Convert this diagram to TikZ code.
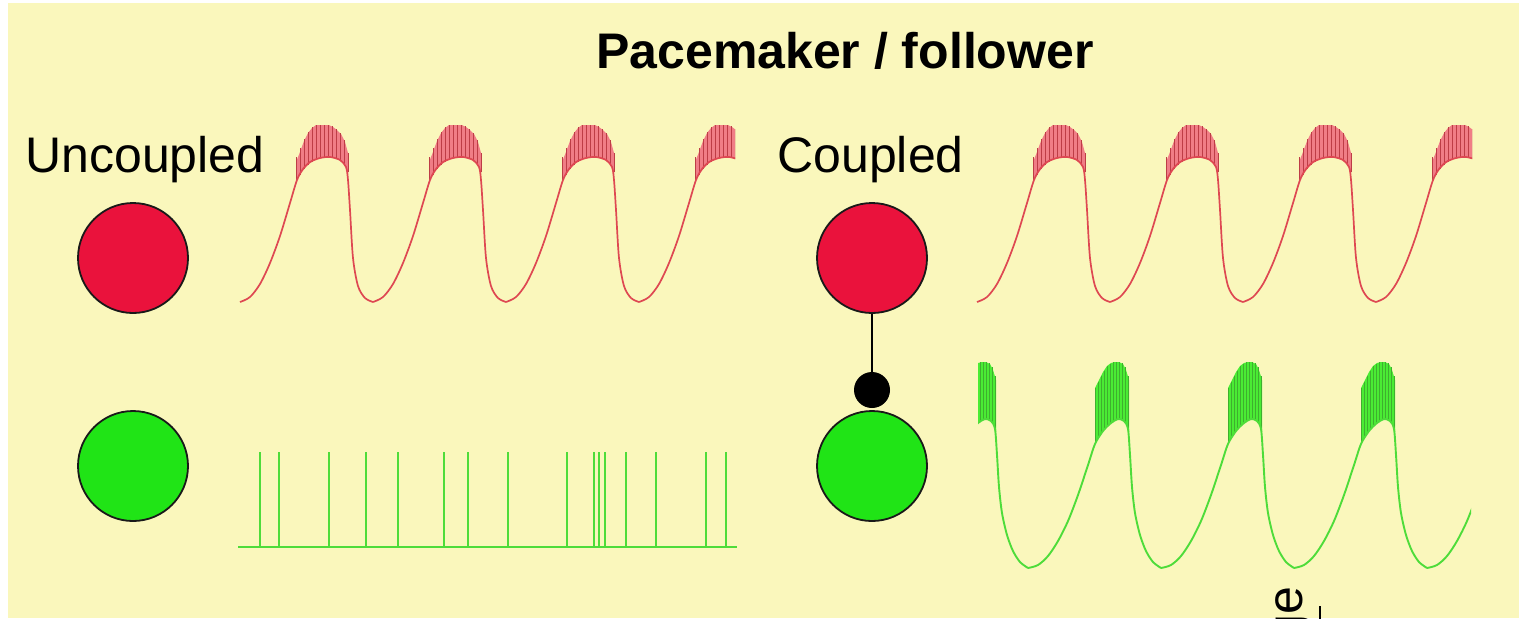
\documentclass[tikz,border=0pt]{standalone}
\usepackage{fontspec}
\setmainfont{Liberation Sans}

\definecolor{paper}{RGB}{250,247,188}
\definecolor{cellred}{RGB}{234,18,60}
\definecolor{cellgreen}{RGB}{32,228,22}
\definecolor{tracered}{RGB}{222,72,82}
\definecolor{burstred}{RGB}{240,125,134}
\definecolor{tracegreen}{RGB}{78,220,58}
\definecolor{burstgreen}{RGB}{74,236,52}

% one cycle of the pacemaker trace, measured from its trough
\newcommand\pmburst{%
  \fill[burstred] (56,181) -- (56,162) -- (60,152) -- (64,141) -- (68,133)
    -- (72,128) -- (76,125) -- (89,125) -- (93,127) -- (97,130) -- (101,134)
    -- (105,142) -- (108,153) -- (108,174) -- (105,165) -- (101,161)
    -- (97,159) -- (93,158) -- (89,157) -- (85,157.5) -- (81,158) -- (77,159)
    -- (73,161) -- (69,164) -- (65,168) -- (61,173) -- cycle;
  \foreach \t/\b/\p in {56/181/157,60/175/148,64/169/139,68/165/132,
      72/162/127,76/160/125,80/158/125,84/157.5/125,88/157/125,92/158/126,
      96/159/129,100/161/133,104/164/140,108/172/153}
    \draw[spikered] (\t,\b) -- (\t,\p);
  \draw[slowred] plot[smooth] coordinates {(0,302) (10,297) (20,284) (30,263)
    (40,236) (50,203) (57,180) (63,169) (70,162) (80,158) (90,157) (100,160)
    (106,167) (108,180) (110,210) (113,258) (118,286) (125,298) (133,302)};
}

% full pacemaker trace starting at horizontal position #1
\newcommand\pmtrace[1]{%
  \begin{scope}[shift={(#1,0)}]
    \clip (-3,100) rectangle (495,330);
    \foreach \k in {0,...,3}{
      \begin{scope}[shift={(\k*133,0)}]\pmburst\end{scope}
    }
  \end{scope}}

% one cycle of the follower trace when coupled, measured from its trough
\newcommand\flburst{%
  \fill[burstgreen] (67,443) -- (67,388) -- (71,380) -- (75,372) -- (79,366)
    -- (83,363) -- (87,362) -- (91,362) -- (95,364) -- (98,370) -- (101,380)
    -- (101,432) -- (98,424) -- (95,420) -- (91,419) -- (87,420) -- (83,422)
    -- (79,426) -- (75,430) -- (71,436) -- cycle;
  \foreach \t/\b/\p in {67/443/388,70/438/382,73/433/376,76/430/371,
      79/426/366,82/423/364,85/421/362,88/420/362,91/419/362,94/420/363,
      97/422/367,100/429/376}
    \draw[spikegreen] (\t,\b) -- (\t,\p);
  \draw[slowgreen] plot[smooth] coordinates {(0,568) (10,565) (20,556)
    (30,541) (40,521) (50,495) (60,465) (67,444) (75,431) (83,423) (90,419)
    (96,421) (100,429) (102,455) (104,487) (107,513) (112,535) (118,551)
    (125,562) (133,568)};
}

\begin{document}
\begin{tikzpicture}[x=0.5pt,y=-0.5pt,
  cell/.style={circle,draw=black!90,line width=0.9pt,minimum size=55pt,inner sep=0pt},
  junction/.style={circle,fill=black,minimum size=18pt,inner sep=0pt},
  heading/.style={font=\fontsize{25}{30}\selectfont\bfseries,inner sep=0pt},
  caption/.style={font=\fontsize{25}{30}\selectfont,inner sep=0pt},
  slowred/.style={draw=tracered,line width=0.85pt,line join=round},
  spikered/.style={draw=tracered!85!black,line width=0.45pt},
  slowgreen/.style={draw=tracegreen,line width=0.95pt,line join=round},
  spikegreen/.style={draw=tracegreen!80!black,line width=0.45pt},
  train/.style={draw=tracegreen,line width=1.1pt},
]
\useasboundingbox (0,0) rectangle (1519,618);
\fill[white] (0,0) rectangle (1519,618);
\fill[paper] (8,3) rectangle (1519,618);

% headings
\node[heading,anchor=base] (title) at (845,68) {Pacemaker / follower};
\node[caption,anchor=base west] (uncoupled) at (25,172) {Uncoupled};
\node[caption,anchor=base west] (coupled) at (777,172) {Coupled};

% cells
\node[cell,fill=cellred] (uRed) at (133,258) {};
\node[cell,fill=cellgreen] (uGreen) at (133,466) {};
\node[cell,fill=cellred] (cRed) at (872,258) {};
\node[junction] (gap) at (872,390) {};
\node[cell,fill=cellgreen] (cGreen) at (872,466) {};
\draw[line width=0.8pt] (cRed) -- (gap);

% uncoupled pacemaker
\pmtrace{240}

% uncoupled follower: irregular single spikes
\draw[train] (238,547) -- (737,547);
\foreach \x in {260,279,329,366,398,444,468,508,567,594,599,605,626,656,706,726}
  \draw[train] (\x,547) -- (\x,452);

% coupled pacemaker
\pmtrace{977}

% coupled follower, entrained to the pacemaker
\begin{scope}[shift={(895,0)}]
  \clip (83,340) rectangle (576,585);
  \foreach \k in {0,...,4}{
    \begin{scope}[shift={(\k*133,0)}]\flburst\end{scope}
  }
\end{scope}

% axis label and scale bar at the lower edge
\node[caption,rotate=90,anchor=base east] (axis) at (1302,586) {ge};
\coordinate (barTop) at (1320,606);
\coordinate (barEnd) at (1320,620);
\draw[line width=0.8pt] (barTop) -- (barEnd);
\end{tikzpicture}
\end{document}
